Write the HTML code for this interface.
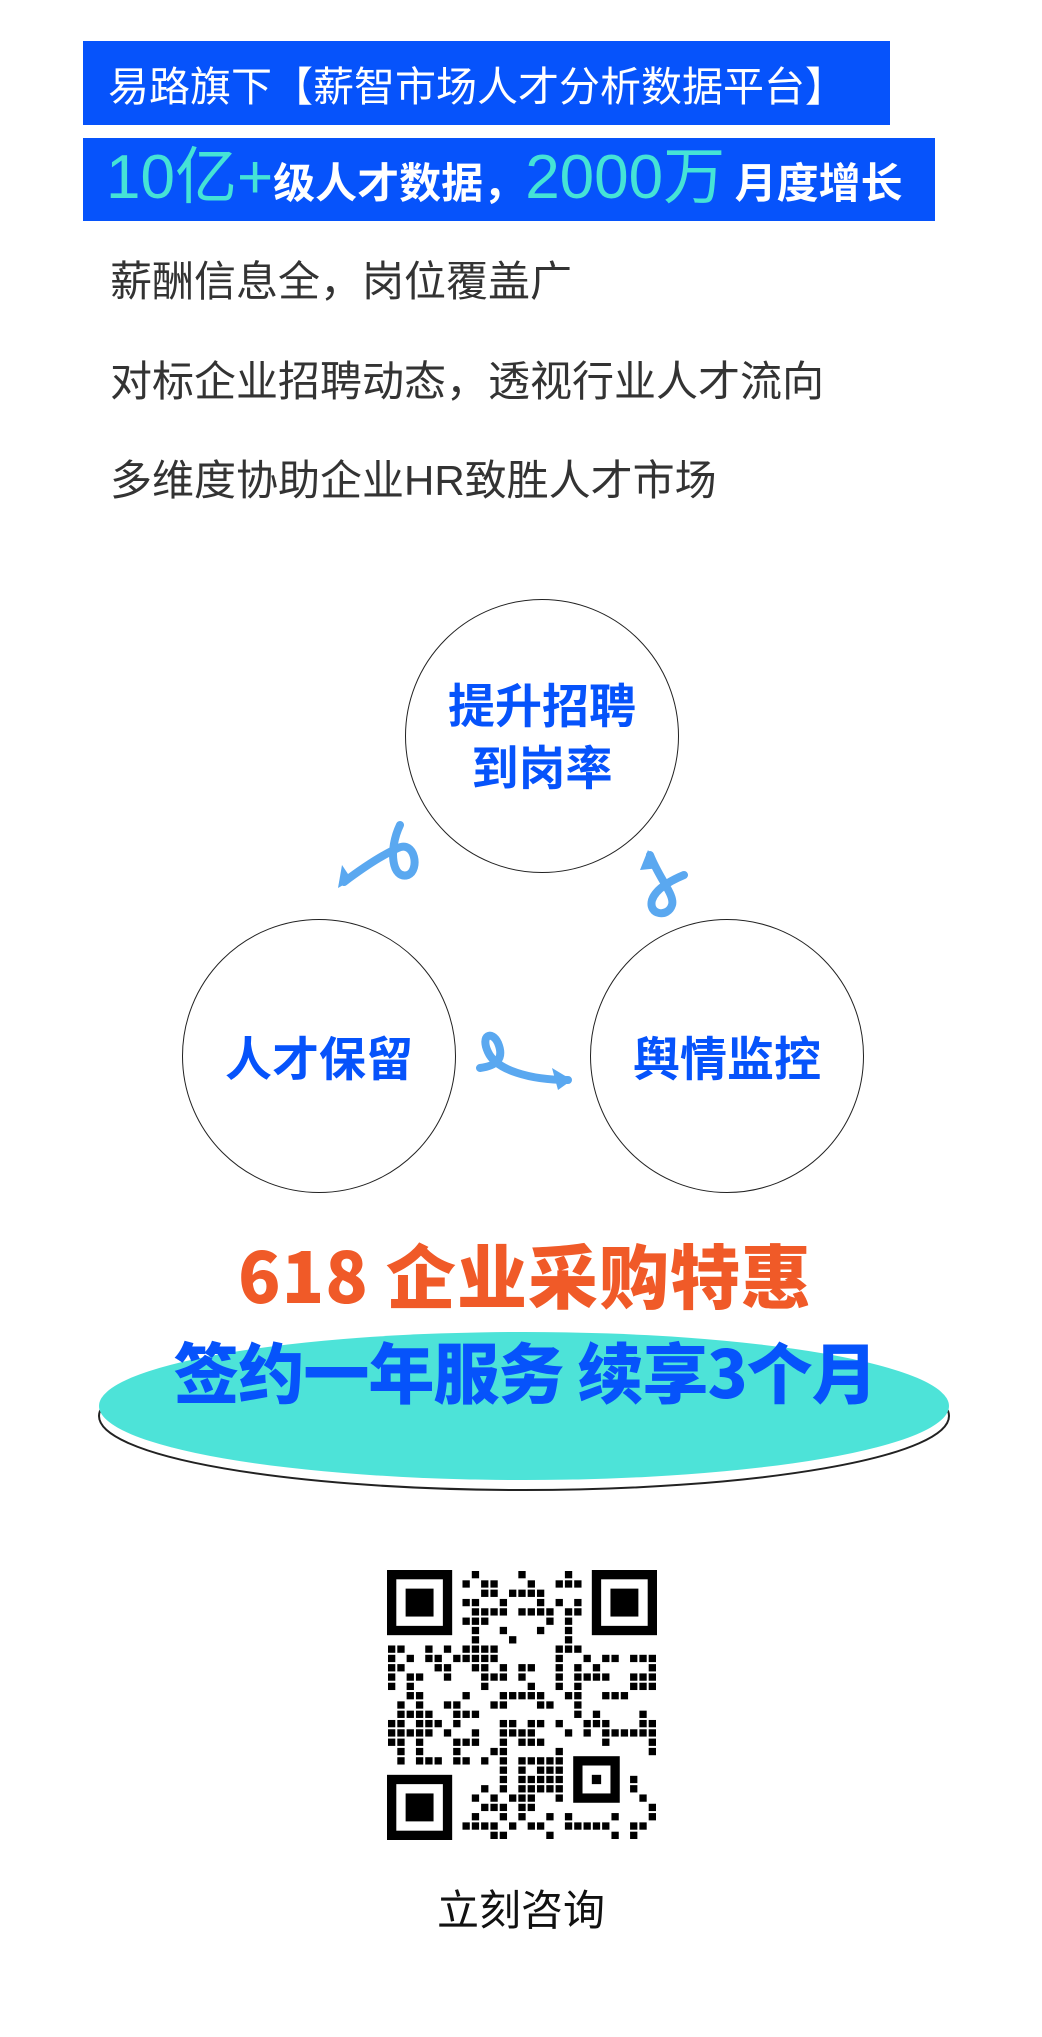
<!DOCTYPE html>
<html><head><meta charset="utf-8"><style>
html,body{margin:0;padding:0;background:#fff;}
body{width:1042px;height:2037px;position:relative;overflow:hidden;font-family:"Liberation Sans","Noto Sans CJK SC",sans-serif;}
.abs{position:absolute;white-space:nowrap;}
.b1{left:83px;top:41px;width:807px;height:84px;background:#0653fb;}
.b2{left:83px;top:138px;width:852px;height:83px;background:#0653fb;}
.t{color:#333;font-size:42px;left:110px;}
.circ{position:absolute;border:1.3px solid #222;border-radius:50%;box-sizing:border-box;}
.ct{position:absolute;color:#0653fb;font-weight:bold;font-size:47px;text-align:center;line-height:62px;font-family:"Noto Sans CJK SC",sans-serif;}
</style></head><body>
<div class="abs b1"></div>
<div class="abs" style="left:108px;top:55px;color:#fff;font-size:41px;font-family:'Noto Sans CJK SC',sans-serif;line-height:56px;">易路旗下【薪智市场人才分析数据平台】</div>
<div class="abs b2"></div>
<div class="abs" style="left:106px;top:140px;line-height:76px;font-family:'Liberation Sans','Noto Sans CJK SC',sans-serif;">
<span style="color:#45e3d6;font-size:62px;">10亿+</span><span style="color:#fff;font-size:42px;font-weight:bold;font-family:'Noto Sans CJK SC',sans-serif;">级人才数据，</span><span style="color:#45e3d6;font-size:62px;">2000万</span><span style="color:#fff;font-size:42px;font-weight:bold;font-family:'Noto Sans CJK SC',sans-serif;"> 月度增长</span></div>
<div class="abs t" style="top:248px;">薪酬信息全，岗位覆盖广</div>
<div class="abs t" style="top:348px;">对标企业招聘动态，透视行业人才流向</div>
<div class="abs t" style="top:447px;">多维度协助企业HR致胜人才市场</div>

<div class="circ" style="left:405px;top:599px;width:274px;height:274px;"></div>
<div class="ct" style="left:405px;top:672px;width:274px;">提升招聘<br>到岗率</div>
<div class="circ" style="left:182px;top:919px;width:274px;height:274px;"></div>
<div class="ct" style="left:182px;top:1025px;width:274px;">人才保留</div>
<div class="circ" style="left:590px;top:919px;width:274px;height:274px;"></div>
<div class="ct" style="left:590px;top:1025px;width:274px;">舆情监控</div>

<svg class="abs" style="left:0;top:0" width="1042" height="1300">
<g fill="none" stroke="#5aa8f0" stroke-width="8" stroke-linecap="round">
<path d="M400 825 C388 850 392 880 408 875 C420 870 415 840 398 848 C380 856 360 870 344 882"/>
<path d="M650 855 C660 880 675 895 672 905 C668 918 648 915 652 900 C656 888 672 880 684 875"/>
<path d="M480 1068 C495 1066 505 1060 498 1043 C492 1030 480 1035 488 1052 C496 1070 530 1080 568 1080"/>
</g>
<g fill="#5aa8f0">
<path d="M338 888 L342 865 L352 880 Z"/>
<path d="M648 850 L640 870 L660 868 Z"/>
<path d="M572 1080 L552 1068 L558 1090 Z"/>
</g>
</svg>

<div class="abs" style="left:180px;top:1232px;width:690px;text-align:center;color:#f05a28;font-size:70px;font-weight:900;font-family:'Noto Sans CJK SC',sans-serif;line-height:84px;letter-spacing:1px;">618 企业采购特惠</div>
<svg class="abs" style="left:0;top:1320px" width="1042" height="190">
<ellipse cx="524" cy="96" rx="425" ry="74" fill="#fff" stroke="#222" stroke-width="2"/>
<ellipse cx="524" cy="86" rx="425" ry="74" fill="#4de3d8"/>
</svg>
<div class="abs" style="left:150px;top:1330px;width:750px;text-align:center;color:#0653fb;font-size:66px;font-weight:900;font-family:'Noto Sans CJK SC',sans-serif;line-height:80px;letter-spacing:-1px;">签约一年服务 续享3个月</div>

<svg id="qr" class="abs" style="left:387px;top:1570px" width="270" height="270"></svg>
<div class="abs" style="left:437px;top:1877px;font-size:42px;color:#111;">立刻咨询</div>
<script>
(function(){
var s=document.getElementById('qr'),N=29,m=270/N,h='';
var seed=12345;function r(){seed=(seed*1103515245+12345)&0x7fffffff;return seed/0x7fffffff;}
function inF(x,y,fx,fy){return x>=fx-1&&x<=fx+7&&y>=fy-1&&y<=fy+7;}
for(var y=0;y<N;y++)for(var x=0;x<N;x++){
 if(inF(x,y,0,0)||inF(x,y,N-7,0)||inF(x,y,0,N-7))continue;
 if(x>=19&&x<=25&&y>=19&&y<=25)continue;
 if(r()<0.45)h+='<rect x="'+(x*m+1)+'" y="'+(y*m+1)+'" width="'+(m-2)+'" height="'+(m-2)+'"/>';
}
function F(fx,fy){h+='<rect x="'+(fx*m+m/2)+'" y="'+(fy*m+m/2)+'" width="'+(6*m)+'" height="'+(6*m)+'" fill="none" stroke="#000" stroke-width="'+m+'"/>';
h+='<rect x="'+((fx+2)*m)+'" y="'+((fy+2)*m)+'" width="'+(3*m)+'" height="'+(3*m)+'"/>';}
F(0,0);F(N-7,0);F(0,N-7);
h+='<rect x="'+(20*m+m/2)+'" y="'+(20*m+m/2)+'" width="'+(4*m)+'" height="'+(4*m)+'" fill="none" stroke="#000" stroke-width="'+m+'"/>';
h+='<rect x="'+(22*m)+'" y="'+(22*m)+'" width="'+m+'" height="'+m+'"/>';
s.innerHTML=h;
})();
</script>
</body></html>
